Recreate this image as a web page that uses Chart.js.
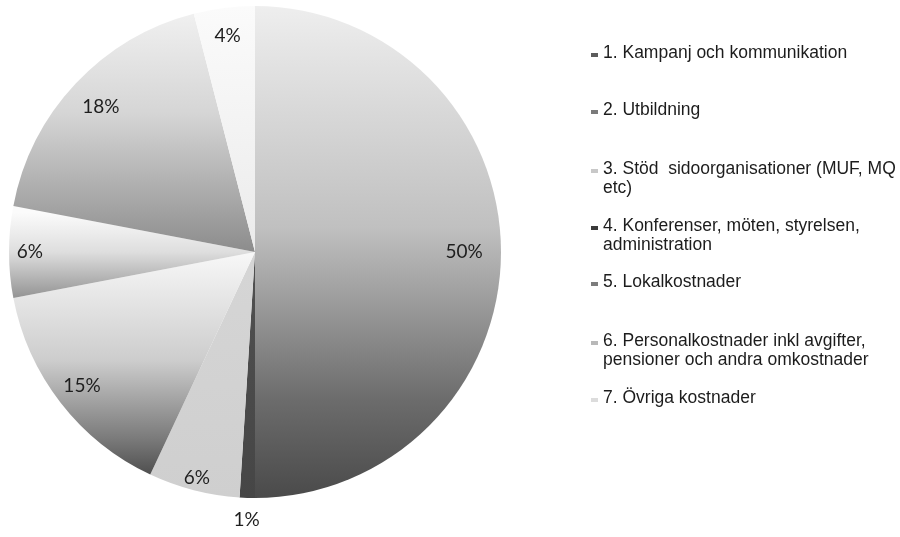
<!DOCTYPE html>
<html>
<head>
<meta charset="utf-8">
<title>Kostnader</title>
<script src="https://cdn.jsdelivr.net/npm/chart.js@4/dist/chart.umd.min.js"></script>
<style>
    html, body { margin: 0; padding: 0; background: #fff; }
    #wrap { position: relative; width: 900px; height: 537px; overflow: hidden; }
    #pie { position: absolute; left: 0; top: 0; }
    .legend-item {
        position: absolute;
        left: 603px;
        font-family: "Liberation Sans", Arial, sans-serif;
        font-size: 17.5px;
        line-height: 19px;
        color: #1c1c1c;
        white-space: pre;
    }
    .legend-item .marker {
        position: absolute;
        left: -12px;
        top: 10px;
        width: 7px;
        height: 4px;
    }
</style>
</head>
<body>
<div id="wrap">
    <canvas id="pie" width="900" height="537"></canvas>
</div>
<script>
// Data
const categories = [
    ['1. Kampanj och kommunikation'],
    ['2. Utbildning'],
    ['3. Stöd  sidoorganisationer (MUF, MQ', 'etc)'],
    ['4. Konferenser, möten, styrelsen,', 'administration'],
    ['5. Lokalkostnader'],
    ['6. Personalkostnader inkl avgifter,', 'pensioner och andra omkostnader'],
    ['7. Övriga kostnader']
];
// pie order (clockwise from top), percent
const sliceLabels = ['1', '2', '3', '4', '5', '6', '7'];
const values = [50, 1, 6, 15, 6, 18, 4];

// Styles: vertical gradient stops per slice (fraction of pie height)
const sliceGradients = [
    [[0, '#eeeeee'], [0.45, '#c0c0c0'], [0.8, '#6c6c6c'], [1, '#4a4a4a']],
    [[0, '#5a5a5a'], [1, '#464646']],
    [[0, '#dcdcdc'], [1, '#cfcfcf']],
    [[0.5, '#f8f8f8'], [0.72, '#cdcdcd'], [0.88, '#7a7a7a'], [1, '#333333']],
    [[0.42, '#fbfbfb'], [0.5, '#dedede'], [0.6, '#8e8e8e']],
    [[0, '#f2f2f2'], [0.22, '#d5d5d5'], [0.5, '#8c8c8c']],
    [[0, '#fbfbfb'], [0.5, '#ebebeb']]
];
const markerColors = ['#5c5c5c', '#7a7a7a', '#c8c8c8', '#3a3a3a', '#7c7c7c', '#b8b8b8', '#dcdcdc'];
const labelRadius = [0.85, 1.09, 0.95, 0.89, 0.915, 0.86, 0.886];
const legendTops = [43, 100, 159, 216, 272, 331, 388];

// Legend (HTML)
const wrap = document.getElementById('wrap');
categories.forEach((lines, i) => {
    const item = document.createElement('div');
    item.className = 'legend-item';
    item.style.top = legendTops[i] + 'px';
    const marker = document.createElement('span');
    marker.className = 'marker';
    marker.style.background = markerColors[i];
    item.appendChild(marker);
    item.appendChild(document.createTextNode(lines.join('\n')));
    wrap.appendChild(item);
});

// Percent labels on the slices
const percentLabels = {
    id: 'percentLabels',
    afterDatasetsDraw(chart) {
        const ctx = chart.ctx;
        const meta = chart.getDatasetMeta(0);
        ctx.save();
        ctx.font = '19px Lato, "Open Sans", sans-serif';
        ctx.fillStyle = '#1e1e1e';
        ctx.textAlign = 'center';
        ctx.textBaseline = 'middle';
        meta.data.forEach((arc, i) => {
            const p = arc.getProps(['x', 'y', 'startAngle', 'endAngle', 'outerRadius'], true);
            const mid = (p.startAngle + p.endAngle) / 2;
            const r = p.outerRadius * labelRadius[i];
            ctx.fillText(values[i] + '%', p.x + Math.cos(mid) * r, p.y + Math.sin(mid) * r);
        });
        ctx.restore();
    }
};

new Chart(document.getElementById('pie').getContext('2d'), {
    type: 'pie',
    data: {
        labels: sliceLabels,
        datasets: [{
            data: values,
            backgroundColor: function(context) {
                const area = context.chart.chartArea;
                if (!area) return null;
                const g = context.chart.ctx.createLinearGradient(0, area.top, 0, area.bottom);
                sliceGradients[context.dataIndex].forEach(s => g.addColorStop(s[0], s[1]));
                return g;
            },
            borderWidth: 0
        }]
    },
    options: {
        responsive: false,
        animation: false,
        layout: {
            padding: { left: 9, right: 399, top: 6, bottom: 39 }
        },
        plugins: {
            legend: { display: false },
            tooltip: { enabled: false }
        }
    },
    plugins: [percentLabels]
});
</script>
</body>
</html>
